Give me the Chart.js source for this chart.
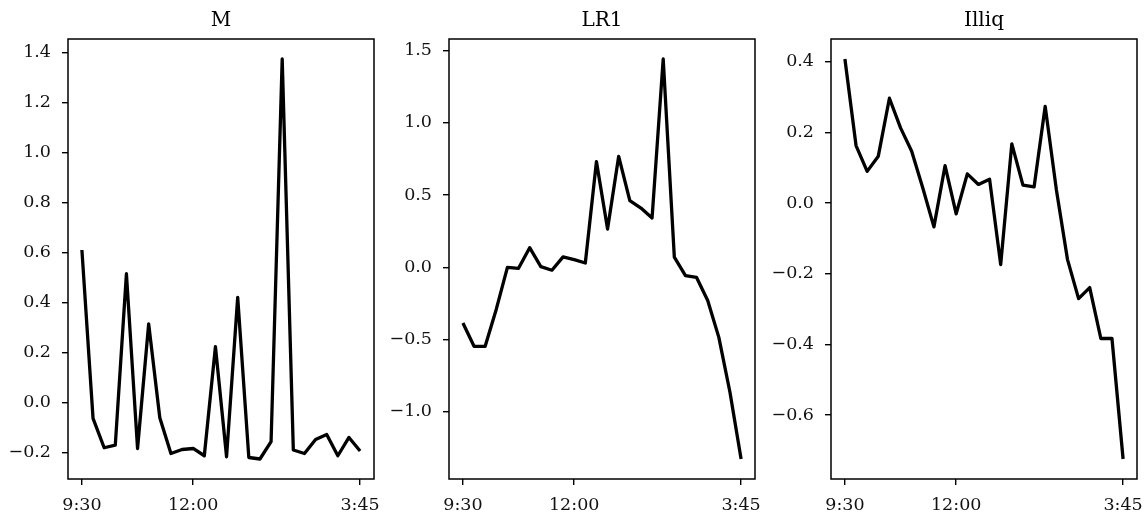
<!DOCTYPE html>
<html>
<head>
<meta charset="utf-8">
<script src="https://cdn.jsdelivr.net/npm/chart.js@4"></script>
<style>
  body { margin: 0; background: #fff; }
  .panel { position: absolute; top: 0; height: 516px; }
</style>
</head>
<body>
<div class="panel" id="p0" style="left:0;width:385px"><canvas id="c0"></canvas></div>
<div class="panel" id="p1" style="left:385px;width:381px"><canvas id="c1"></canvas></div>
<div class="panel" id="p2" style="left:766px;width:382px"><canvas id="c2"></canvas></div>
<script>
// 15-minute slots from 9:30 to 3:45 (26 points)
const tickSlots = [0, 10, 25];
const tickLabels = ['9:30', '12:00', '3:45'];

const titles = ['M', 'LR1', 'Illiq'];

const mValues = [0.61, -0.063, -0.18, -0.17, 0.515, -0.183, 0.315, -0.06, -0.203, -0.187,
  -0.183, -0.212, 0.224, -0.216, 0.421, -0.219, -0.225, -0.156, 1.373, -0.189,
  -0.203, -0.147, -0.127, -0.212, -0.139, -0.193];
const lr1Values = [-0.385, -0.547, -0.547, -0.29, 0.0, -0.007, 0.136, 0.005, -0.02, 0.072,
  0.053, 0.03, 0.732, 0.265, 0.768, 0.462, 0.41, 0.342, 1.442, 0.07,
  -0.058, -0.07, -0.23, -0.485, -0.865, -1.327];
const illiqValues = [0.408, 0.163, 0.09, 0.133, 0.297, 0.213, 0.147, 0.043, -0.067, 0.106,
  -0.03, 0.083, 0.053, 0.068, -0.174, 0.168, 0.051, 0.046, 0.274, 0.039,
  -0.159, -0.27, -0.239, -0.383, -0.383, -0.724];

const mTicks = [-0.2, 0.0, 0.2, 0.4, 0.6, 0.8, 1.0, 1.2, 1.4];
const lr1Ticks = [-1.0, -0.5, 0.0, 0.5, 1.0, 1.5];
const illiqTicks = [-0.6, -0.4, -0.2, 0.0, 0.2, 0.4];

const series = [mValues, lr1Values, illiqValues];
const yTicks = [mTicks, lr1Ticks, illiqTicks];
const yAxisWidths = [68, 64, 65];

const FONT = "'DejaVu Serif', serif";

function fmt(v) {
    return v.toFixed(1).replace('-', '\u2212');
}

// frame around the plot area + title above it
const framePlugin = {
    id: 'frame',
    afterDatasetsDraw(chart, args, opts) {
        const a = chart.chartArea;
        const ctx = chart.ctx;
        ctx.save();
        ctx.strokeStyle = '#000';
        ctx.lineWidth = 1.5;
        ctx.strokeRect(a.left, a.top, a.right - a.left, a.bottom - a.top);
        ctx.fillStyle = '#000';
        ctx.font = '20px ' + FONT;
        ctx.textAlign = 'center';
        ctx.textBaseline = 'alphabetic';
        ctx.fillText(opts.text, (a.left + a.right) / 2, 26);
        ctx.restore();
    }
};

function makeChart(i) {
    const vals = series[i];
    const lo = Math.min(...vals), hi = Math.max(...vals);
    const pad = (hi - lo) * 0.05;
    const n = vals.length;
    const xpad = (n - 1) * 0.05;

    new Chart(document.getElementById('c' + i), {
        type: 'line',
        data: {
            datasets: [{
                data: vals.map((v, k) => ({ x: k, y: v })),
                borderColor: '#000',
                borderWidth: 3.3,
                pointRadius: 0,
                tension: 0,
                borderJoinStyle: 'round',
                fill: false
            }]
        },
        options: {
            responsive: true,
            maintainAspectRatio: false,
            animation: false,
            events: [],
            layout: { padding: { top: 39, right: 11, bottom: 0, left: 0 } },
            plugins: {
                legend: { display: false },
                tooltip: { enabled: false },
                frame: { text: titles[i] }
            },
            scales: {
                x: {
                    type: 'linear',
                    min: -xpad,
                    max: n - 1 + xpad,
                    afterBuildTicks: s => { s.ticks = tickSlots.map(v => ({ value: v })); },
                    afterFit: s => { s.height = 37; s.paddingLeft = 0; s.paddingRight = 0; },
                    border: { display: false },
                    grid: { drawOnChartArea: false, drawTicks: true, tickLength: 6, color: '#000', lineWidth: 1.4 },
                    ticks: {
                        color: '#111',
                        font: { family: FONT, size: 17.5 },
                        padding: 10,
                        maxRotation: 0,
                        autoSkip: false,
                        callback: v => tickLabels[tickSlots.indexOf(v)]
                    }
                },
                y: {
                    min: lo - pad,
                    max: hi + pad,
                    afterBuildTicks: s => { s.ticks = yTicks[i].map(v => ({ value: v })); },
                    afterFit: s => { s.width = yAxisWidths[i]; s.paddingTop = 0; s.paddingBottom = 0; },
                    border: { display: false },
                    grid: { drawOnChartArea: false, drawTicks: true, tickLength: 6, color: '#000', lineWidth: 1.4 },
                    ticks: {
                        color: '#111',
                        font: { family: FONT, size: 17.5 },
                        padding: 11,
                        autoSkip: false,
                        callback: v => fmt(v)
                    }
                }
            }
        },
        plugins: [framePlugin]
    });
}

[0, 1, 2].forEach(makeChart);
</script>
</body>
</html>
